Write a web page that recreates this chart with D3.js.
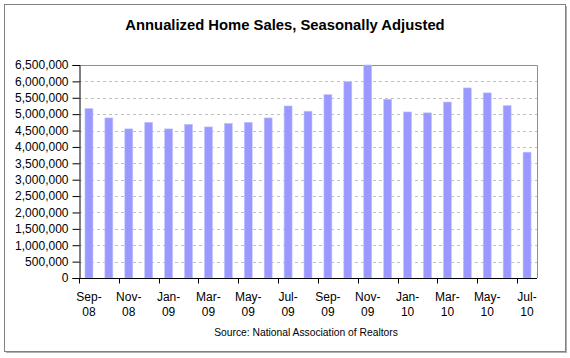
<!DOCTYPE html>
<html>
<head>
<meta charset="utf-8">
<script src="https://cdn.jsdelivr.net/npm/d3@7"></script>
<style>
  body { margin: 0; background: #fff; }
  text { font-family: "Liberation Sans", Arial, sans-serif; fill: #000; }
</style>
</head>
<body>
<div id="chart"></div>
<script>
let months = ["Sep-08", "Oct-08", "Nov-08", "Dec-08", "Jan-09", "Feb-09", "Mar-09", "Apr-09",
  "May-09", "Jun-09", "Jul-09", "Aug-09", "Sep-09", "Oct-09", "Nov-09", "Dec-09",
  "Jan-10", "Feb-10", "Mar-10", "Apr-10", "May-10", "Jun-10", "Jul-10"];
let sales = [5170000, 4885000, 4550000, 4750000, 4550000, 4690000, 4610000, 4720000,
  4750000, 4885000, 5250000, 5090000, 5596000, 5990000, 6500000, 5454000,
  5068000, 5040000, 5370000, 5800000, 5650000, 5260000, 3840000];
let yTicks = d3.range(0, 6500001, 500000);

let width = 570, height = 358;
let margin = {top: 65, right: 33, bottom: 80, left: 79};
let w = width - margin.left - margin.right,
  h = height - margin.top - margin.bottom;

let svg = d3.select("#chart").append("svg")
  .attr("width", width)
  .attr("height", height);

// outer frame with a little shadow
svg.append("rect")
  .attr("x", 6).attr("y", 6).attr("width", 561).attr("height", 347)
  .attr("fill", "#b0b0b0");
svg.append("rect")
  .attr("x", 4.5).attr("y", 4.5).attr("width", 561).attr("height", 347)
  .attr("fill", "#fff").attr("stroke", "#808080");

svg.append("text")
  .attr("x", 285).attr("y", 30)
  .attr("text-anchor", "middle")
  .style("font-size", "14.8px")
  .style("font-weight", "bold")
  .text("Annualized Home Sales, Seasonally Adjusted");

let g = svg.append("g")
  .attr("transform", "translate(" + margin.left + "," + margin.top + ")");

let x = d3.scaleBand()
  .domain(months)
  .range([0, w])
  .paddingInner(0.6)
  .paddingOuter(0.3);

let y = d3.scaleLinear()
  .domain([0, 6500000])
  .range([h, 0]);

// grid lines
g.selectAll(".grid")
  .data(yTicks.filter(function (d) { return d > 0 && d < 6500000; }))
  .enter().append("line")
  .attr("x1", 0).attr("x2", w)
  .attr("y1", function (d) { return Math.round(y(d)) + 0.5; })
  .attr("y2", function (d) { return Math.round(y(d)) + 0.5; })
  .attr("stroke", "#c0c0c0")
  .style("stroke-dasharray", "3, 3");

// plot border top/right
g.append("path")
  .attr("d", "M0.5,0.5H" + (w + 0.5) + "V" + h)
  .attr("fill", "none")
  .attr("stroke", "#909090");

g.selectAll(".bar")
  .data(sales)
  .enter().append("rect")
  .attr("x", function (d, i) { return x(months[i]); })
  .attr("y", function (d) { return y(d); })
  .attr("width", x.bandwidth())
  .attr("height", function (d) { return h - y(d); })
  .attr("fill", "#9999ff")
  .attr("stroke", "#c4c4ff")
  .attr("stroke-width", 0.6);

// y axis
let yAxis = g.append("g")
  .attr("transform", "translate(0.5,0)")
  .call(d3.axisLeft(y).tickValues(yTicks).tickSize(7).tickFormat(d3.format(",")));
yAxis.selectAll("text").style("font-size", "12px").attr("x", -11);
yAxis.selectAll("line, path").attr("stroke", "#000");

// x axis, ticks at every second category boundary
let step = x.step();
let xAxis = g.append("g")
  .attr("transform", "translate(0," + (h + 0.5) + ")");
xAxis.append("line")
  .attr("x1", 0).attr("x2", w)
  .attr("stroke", "#000");
xAxis.selectAll(".tick")
  .data(months.filter(function (d, i) { return i % 2 === 0; }))
  .enter().append("line")
  .attr("x1", function (d) { return Math.round(x(d) + x.bandwidth() / 2 - step / 2) + 0.5; })
  .attr("x2", function (d) { return Math.round(x(d) + x.bandwidth() / 2 - step / 2) + 0.5; })
  .attr("y1", 0).attr("y2", 5)
  .attr("stroke", "#000");

let labels = xAxis.selectAll(".lab")
  .data(months.filter(function (d, i) { return i % 2 === 0; }))
  .enter().append("text")
  .attr("text-anchor", "middle")
  .style("font-size", "12px");
labels.append("tspan")
  .attr("x", function (d) { return x(d) + x.bandwidth() / 2; })
  .attr("y", 22)
  .text(function (d) { return d.split("-")[0] + "-"; });
labels.append("tspan")
  .attr("x", function (d) { return x(d) + x.bandwidth() / 2; })
  .attr("y", 37)
  .text(function (d) { return d.split("-")[1]; });

svg.append("text")
  .attr("x", 306).attr("y", 336)
  .attr("text-anchor", "middle")
  .style("font-size", "10.3px")
  .text("Source: National Association of Realtors");
</script>
</body>
</html>
